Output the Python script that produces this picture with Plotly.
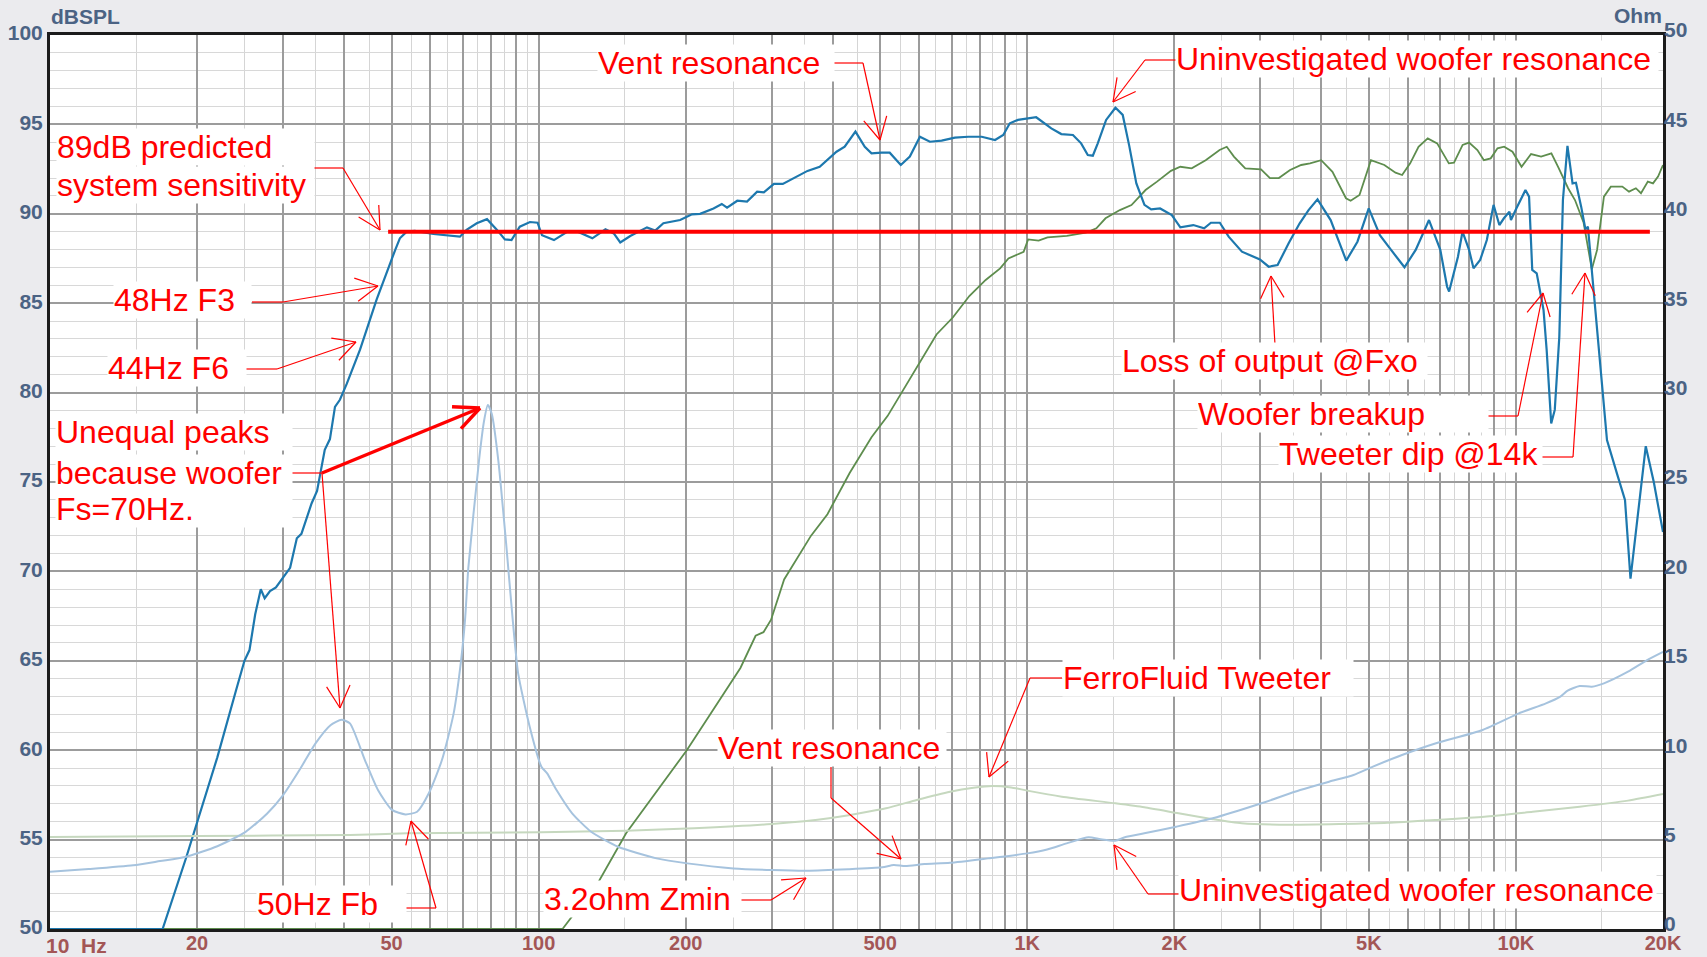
import math
import plotly.graph_objects as go

# ---------------- data ----------------
# System SPL (dB)
spl_freq = [10, 12, 15, 17, 19, 20, 22, 24, 25, 25.6, 26.3, 27.0, 27.5, 28.2, 29.0, 31.0, 32.0, 32.7,
            33.5, 34.3, 35.2, 36.0, 36.5, 37.4, 38.3, 39.2, 40.5, 43.1, 46.6, 50.9, 52.0, 53.7, 55.8,
            60.9, 64.9, 69.0, 71.2, 74.7, 78.4, 82.2, 85.3, 88.0, 91.5, 96.0, 99.5, 101.6, 107.5,
            114.6, 120.2, 128.8, 137, 142.5, 146.9, 154, 166.6, 173.2, 180, 194.8, 206, 214, 228,
            237, 243, 255, 267, 280, 289, 303, 316, 339, 355, 376, 391, 407, 423, 445, 465, 480,
            503, 523, 551, 575, 603, 632, 668, 711, 757, 807, 859, 893, 921, 957, 1043, 1076, 1120,
            1174, 1240, 1289, 1330, 1362, 1394, 1450, 1515, 1568, 1617, 1672, 1737, 1793, 1870,
            1976, 2057, 2187, 2301, 2376, 2478, 2583, 2750, 2993, 3120, 3253, 3427, 3610, 3764,
            3926, 4177, 4496, 4739, 4998, 5268, 5553, 5915, 6236, 6640, 7003, 7230, 7300, 7610,
            7775, 8020, 8190, 8450, 8720, 9000, 9250, 9450, 9700, 9770, 10020, 10460, 10640, 10800,
            11030, 11390, 11560, 11810, 12010, 12270, 12480, 12750, 13060, 13270, 13600, 13880,
            14040, 14560, 15360, 16130, 16720, 17160, 18440, 19150, 20000]
spl_db = [50, 50, 50, 50, 54, 56, 59.6, 63.3, 65.0, 65.6, 67.6, 69.0, 68.5, 68.9, 69.1, 70.2, 71.85, 72.1,
          72.9, 73.8, 74.5, 75.8, 76.8, 77.4, 79.2, 79.6, 80.5, 82.4, 85.2, 88.0, 88.63, 89.0, 89.04,
          88.87, 88.8, 88.72, 89.1, 89.47, 89.7, 89.1, 88.57, 88.53, 89.28, 89.54, 89.5, 88.8, 88.53,
          89.0, 89.0, 88.63, 89.13, 88.9, 88.4, 88.76, 89.24, 89.06, 89.47, 89.65, 89.97, 90.0, 90.3,
          90.55, 90.34, 90.73, 90.68, 91.24, 91.2, 91.67, 91.67, 92.1, 92.4, 92.63, 93.05, 93.47, 93.75,
          94.6, 93.75, 93.38, 93.42, 93.42, 92.73, 93.2, 94.31, 94.03, 94.09, 94.26, 94.31, 94.31,
          94.13, 94.41, 95.06, 95.25, 95.4, 95.15, 94.78, 94.46, 94.41, 93.94, 93.29, 93.25, 93.94,
          95.25, 95.93, 95.53, 93.8, 91.7, 90.5, 90.25, 90.3, 89.93, 89.24, 89.37, 89.19, 89.5, 89.5,
          88.72, 87.88, 87.45, 87.04, 87.13, 88.35, 89.47, 90.21, 90.81, 89.65, 87.38, 88.44, 90.3,
          88.81, 87.98, 87.01, 87.98, 89.65, 87.98, 85.93, 85.65, 87.6, 89.0, 87.98, 86.95, 87.42,
          88.53, 90.5, 89.37, 89.75, 90.12, 89.65, 90.3, 91.33, 90.96, 86.86, 86.67, 84.62, 82.38,
          78.28, 79.03, 83.13, 90.77, 93.8, 91.7, 91.74, 90.4, 89.13, 89.28, 84.62, 77.35, 75.4, 74.0,
          69.6, 77.0, 75.0, 72.2]

# Tweeter SPL (dB)
tw_freq = [10, 50, 100, 111.9, 133, 151, 201, 258.8, 278, 288.5, 299, 318, 361, 390, 433, 480, 518, 559,
           604, 652, 704, 761, 822, 880, 915, 983, 1004, 1055, 1100, 1205, 1317, 1385, 1446, 1547, 1634,
           1746, 1843, 1968, 2057, 2170, 2318, 2475, 2560, 2648, 2793, 3009, 3138, 3272, 3450, 3636,
           3790, 3995, 4213, 4490, 4590, 4785, 5050, 5380, 5670, 5850, 6076, 6320, 6600, 6900, 7290,
           7470, 7780, 8020, 8340, 8600, 8880, 9170, 9460, 9840, 10270, 10740, 11260, 11820, 12200,
           12790, 13210, 13760, 14300, 14660, 15140, 15640, 16510, 17040, 17600, 18030, 18620, 19080,
           19540, 20000]
tw_db = [50, 50, 50, 50, 52.7, 55.35, 60.0, 64.6, 66.4, 66.6, 67.3, 69.55, 72.0, 73.2, 75.5, 77.5, 78.7,
         80.2, 81.7, 83.25, 84.2, 85.4, 86.3, 86.95, 87.5, 87.88, 88.57, 88.5, 88.68, 88.76, 88.94,
         89.19, 89.75, 90.21, 90.49, 91.33, 91.8, 92.4, 92.63, 92.54, 93.0, 93.57, 93.75, 93.2, 92.54,
         92.49, 92.0, 92.0, 92.45, 92.73, 92.82, 93.0, 92.35, 90.87, 90.73, 91.05, 93.0, 92.73, 92.3,
         92.17, 92.82, 93.75, 94.22, 93.94, 92.82, 92.86, 93.85, 93.98, 93.57, 93.0, 93.1, 93.66,
         93.75, 93.47, 92.63, 93.34, 93.2, 93.38, 92.63, 91.43, 90.77, 89.5, 86.9, 87.98, 90.96,
         91.52, 91.52, 91.24, 91.43, 91.15, 91.8, 91.7, 92.08, 92.73]

# System impedance (Ohm)
imp_freq = [10, 12, 14.8, 16.8, 18.9, 22, 25.1, 27.8, 30, 32.4, 35, 37.5, 39.5, 41.1, 44.1, 46.9, 50.1,
            53.4, 56.4, 59.6, 63.4, 67, 69.4, 70.7, 71.8, 75.5, 77.3, 78.7, 80.2, 82.7, 85.9, 88.5,
            90.8, 95.9, 101.3, 104.1, 108.8, 117.1, 128.1, 145.4, 174.3, 201.5, 250.5, 300, 353, 430,
            505, 533, 563, 616, 695, 831, 1000, 1098, 1204, 1335, 1413, 1514, 1584, 1736, 2016, 2397,
            3015, 3618, 4147, 4653, 5098, 5846, 6863, 8550, 10140, 11520, 12330, 12760, 13510, 14300,
            15140, 16960, 18560, 20000]
imp_ohm = [3.2, 3.35, 3.56, 3.8, 4.03, 4.63, 5.42, 6.45, 7.49, 8.89, 10.41, 11.4, 11.7, 11.5, 9.45, 7.77,
           6.66, 6.41, 6.56, 7.59, 9.45, 12.06, 15.04, 17.3, 20.2, 26.2, 28.4, 29.3, 28.8, 26.2, 21.4,
           17.3, 14.3, 11.3, 9.08, 8.7, 7.77, 6.47, 5.44, 4.6, 3.95, 3.67, 3.39, 3.30, 3.26, 3.34, 3.45,
           3.58, 3.52, 3.63, 3.7, 3.95, 4.23, 4.45, 4.79, 5.13, 5.02, 4.94, 5.13, 5.35, 5.72, 6.19,
           7.03, 7.77, 8.24, 8.61, 9.08, 9.73, 10.39, 11.13, 12.06, 12.62, 13.0, 13.33, 13.59, 13.55,
           13.74, 14.39, 15.04, 15.5]

# Tweeter impedance (Ohm)
twimp_freq = [10, 20, 41.1, 53.9, 101.3, 151, 208, 300, 393, 514, 594, 695, 776, 847, 927, 1000, 1177,
              1514, 1736, 2040, 2397, 2748, 3455, 4348, 5458, 6863, 8620, 10820, 13510, 16960, 20000]
twimp_ohm = [5.15, 5.2, 5.26, 5.35, 5.41, 5.5, 5.63, 5.87, 6.19, 6.75, 7.22, 7.68, 7.9, 8.0, 7.92, 7.74,
             7.4, 7.03, 6.81, 6.47, 6.14, 5.91, 5.83, 5.87, 5.94, 6.1, 6.28, 6.56, 6.84, 7.18, 7.55]

# Predicted sensitivity line
target_freq = [49.2, 18800]
target_db = [89, 89]

# Axis ticks
major_mult = [1, 2, 3, 4, 5, 6, 7, 8, 9]
decades = [10, 100, 1000]
labelled = {20: "20", 50: "50", 100: "100", 200: "200", 500: "500", 1000: "1K", 2000: "2K",
            5000: "5K", 10000: "10K", 20000: "20K"}
left_ticks = list(range(50, 101, 5))
right_ticks = list(range(0, 51, 5))

# ---------------- layout geometry ----------------
W, H = 1707, 957
ML, MR, MT, MB = 50, 44, 35, 28
PW = W - ML - MR
PH = H - MT - MB

def to_paper(x, y):
    return (x - ML) / PW, (H - MB - y) / PH

x_major = [m * d for d in decades for m in major_mult] + [10000, 20000]
x_text = [labelled.get(v, "") for v in x_major]
x_minor = [(m + 0.5) * d for d in decades + [10000] for m in major_mult if (m + 0.5) * d < 20000]

RED = "#ff0000"
FONT = "Liberation Sans, Arial, sans-serif"

fig = go.Figure()
fig.add_trace(go.Scatter(x=twimp_freq, y=twimp_ohm, yaxis="y2", mode="lines",
                         line=dict(color="#c6d8bf", width=2, shape="spline", smoothing=0.6),
                         hoverinfo="skip", showlegend=False))
fig.add_trace(go.Scatter(x=imp_freq, y=imp_ohm, yaxis="y2", mode="lines",
                         line=dict(color="#a6c3de", width=2, shape="spline", smoothing=0.6),
                         hoverinfo="skip", showlegend=False))
fig.add_trace(go.Scatter(x=tw_freq, y=tw_db, mode="lines",
                         line=dict(color="#5e8d4e", width=1.8), hoverinfo="skip", showlegend=False))
fig.add_trace(go.Scatter(x=spl_freq, y=spl_db, mode="lines",
                         line=dict(color="#1d78ae", width=2.2), hoverinfo="skip", showlegend=False))
fig.add_trace(go.Scatter(x=target_freq, y=target_db, mode="lines",
                         line=dict(color=RED, width=4), hoverinfo="skip", showlegend=False))

# ---------------- annotations (text boxes) ----------------
labels = [
    (["Vent resonance"], 597, [63], 236),
    (["Uninvestigated woofer resonance"], 1175, [59], 482),
    (["89dB predicted", "system sensitivity"], 56, [147, 185], 257),
    (["48Hz F3"], 113, [300], 137),
    (["44Hz F6"], 107, [368], 138),
    (["Unequal peaks", "because woofer", "Fs=70Hz."], 55, [432, 473, 509], 236),
    (["50Hz Fb"], 256, [904], 149),
    (["3.2ohm Zmin"], 543, [899], 197),
    (["Vent resonance"], 717, [748], 228),
    (["FerroFluid Tweeter"], 1062, [678], 290),
    (["Uninvestigated woofer resonance"], 1178, [890], 477),
    (["Loss of output @Fxo"], 1121, [361], 305),
    (["Woofer breakup"], 1197, [414], 290),
    (["Tweeter dip @14k"], 1278, [454], 263),
]
annotations = []
for lines, xl, ys, bw in labels:
    for t, yc in zip(lines, ys):
        xp, yp = to_paper(xl, yc)
        annotations.append(dict(text=t, x=xp, y=yp, xref="paper", yref="paper", xanchor="left",
                                yanchor="middle", showarrow=False, align="left", width=bw,
                                bgcolor="white", borderpad=0,
                                font=dict(family=FONT, size=32, color=RED)))

AX_BLUE = "#4b6384"
AX_RED = "#a35656"
for t, x, y, xa in [("dBSPL", 49, 17, "left"), ("Ohm", 1664, 16, "right"), ("10  Hz", 44, 945, "left")]:
    xp, yp = to_paper(x, y)
    annotations.append(dict(text=t, x=xp, y=yp, xref="paper", yref="paper", xanchor=xa, yanchor="middle",
                            showarrow=False,
                            font=dict(family=FONT, size=21, weight="bold",
                                      color=AX_RED if "Hz" in t else AX_BLUE)))

# ---------------- leader lines with open arrowheads ----------------
leaders = [
    ([(833, 63), (863, 63), (880, 140)], 1.2, True),
    ([(1177, 60), (1145, 60), (1113, 102)], 1.2, True),
    ([(313, 168), (343, 168), (380, 230)], 1.2, True),
    ([(252, 302), (283, 302), (378, 286)], 1.2, True),
    ([(246, 369), (277, 369), (356, 342)], 1.2, True),
    ([(291, 473), (322, 473)], 1.2, False),
    ([(322, 473), (480, 408)], 3.5, True),
    ([(322, 473), (340, 708)], 1.2, True),
    ([(405, 908), (436, 908), (411, 821)], 1.2, True),
    ([(740, 900), (771, 900), (806, 878)], 1.2, True),
    ([(831, 767), (831, 798), (901, 859)], 1.2, True),
    ([(1062, 678), (1030, 678), (989, 777)], 1.2, True),
    ([(1179, 894), (1148, 894), (1114, 845)], 1.2, True),
    ([(1275, 345), (1271, 276)], 1.2, True),
    ([(1487, 416), (1518, 416), (1543, 293)], 1.2, True),
    ([(1541, 457), (1573, 457), (1585, 273)], 1.2, True),
]
shapes = []

def seg(p, q, w):
    a = to_paper(*p)
    b = to_paper(*q)
    shapes.append(dict(type="line", xref="paper", yref="paper", x0=a[0], y0=a[1], x1=b[0], y1=b[1],
                       line=dict(color=RED, width=w), layer="above"))

for pts, w, head in leaders:
    for p, q in zip(pts[:-1], pts[1:]):
        seg(p, q, w)
    if head:
        tip, frm = pts[-1], pts[-2]
        dx, dy = frm[0] - tip[0], frm[1] - tip[1]
        n = math.hypot(dx, dy)
        ux, uy = dx / n, dy / n
        L = 28 if w > 2 else 25
        ang = math.radians(25 if w > 2 else 28)
        for s in (1, -1):
            rx = ux * math.cos(s * ang) - uy * math.sin(s * ang)
            ry = ux * math.sin(s * ang) + uy * math.cos(s * ang)
            seg(tip, (tip[0] + L * rx, tip[1] + L * ry), w)

tickfont_l = dict(family=FONT, size=21, weight="bold", color=AX_BLUE)
fig.update_layout(
    template="none",
    width=W, height=H,
    margin=dict(l=ML, r=MR, t=MT, b=MB, pad=0),
    paper_bgcolor="#ebebee",
    plot_bgcolor="white",
    showlegend=False,
    font=dict(family=FONT),
    xaxis=dict(type="log", range=[1, math.log10(20000)], tickmode="array", tickvals=x_major,
               ticktext=x_text, showgrid=True, gridcolor="#9c9c9c", gridwidth=1.8,
               minor=dict(tickmode="array", tickvals=x_minor, showgrid=True, gridcolor="#d5d5d5",
                          gridwidth=1.4, ticks=""),
               showline=True, linecolor="#1c1c1c", linewidth=3, mirror=True, ticks="",
               ticklabelstandoff=-6,
               zeroline=False, automargin=False, layer="below traces",
               tickfont=dict(family=FONT, size=20, weight="bold", color=AX_RED)),
    yaxis=dict(range=[50, 100], tickmode="array", tickvals=left_ticks, showgrid=True,
               gridcolor="#9c9c9c", gridwidth=1.8,
               minor=dict(dtick=1, showgrid=True, gridcolor="#d8d8d8", gridwidth=1.4, ticks=""),
               showline=True, linecolor="#1c1c1c", linewidth=3, mirror=True, ticks="",
               ticklabelshift=-2,
               zeroline=False, automargin=False, layer="below traces", tickfont=tickfont_l),
    yaxis2=dict(range=[0, 50], overlaying="y", side="right", tickmode="array", tickvals=right_ticks,
                showgrid=False, zeroline=False, showline=False, ticks="", automargin=False,
                ticklabelshift=-5, tickfont=tickfont_l),
    annotations=annotations,
    shapes=shapes,
)

fig.write_html("out.html", config={"displayModeBar": False},
               post_script="document.body.style.margin='0';document.body.style.overflow='hidden';")
